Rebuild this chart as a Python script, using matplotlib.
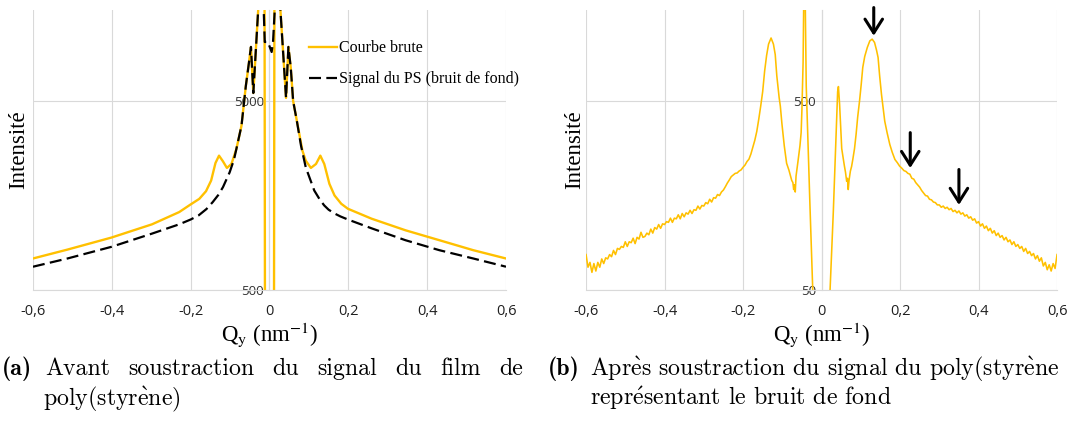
import matplotlib
matplotlib.use("Agg")
import matplotlib.pyplot as plt
from matplotlib.lines import Line2D
from matplotlib.ticker import FixedLocator, NullLocator

# ---- (a) raw curve and PS background ----
q_raw = [-0.600, -0.5125, -0.401, -0.298, -0.229, -0.200, -0.178, -0.161, -0.148,
         -0.137, -0.128, -0.118, -0.108, -0.0965, -0.084, -0.071, -0.060, -0.052,
         -0.047, -0.041, -0.035, -0.028, -0.0125, -0.0114, 0.0114, 0.0125, 0.027,
         0.042, 0.048, 0.054, 0.060, 0.069, 0.0836, 0.092, 0.105, 0.118, 0.129,
         0.139, 0.152, 0.165, 0.182, 0.199, 0.259, 0.345, 0.431, 0.517, 0.600]
i_raw = [734, 818, 947, 1113, 1292, 1418, 1518, 1666, 1897,
         2349, 2569, 2397, 2212, 2321, 2785, 3700, 6000, 8000,
         9660, 5510, 9000, 16000, 16000, 300, 300, 16000, 16000,
         5190, 9660, 7500, 5000, 3970, 2727, 2417, 2212, 2321, 2569,
         2321, 1822, 1582, 1430, 1345, 1192, 1035, 917, 812, 734]

q_ps = [-0.600, -0.5125, -0.401, -0.298, -0.229, -0.200, -0.180, -0.160, -0.144,
        -0.130, -0.118, -0.101, -0.090, -0.084, -0.071, -0.060, -0.052, -0.047,
        -0.041, -0.035, -0.028, -0.015, -0.012, -0.004, 0.0055, 0.009, 0.014,
        0.027, 0.042, 0.048, 0.054, 0.060, 0.069, 0.080, 0.092, 0.1136, 0.128,
        0.139, 0.150, 0.165, 0.180, 0.199, 0.259, 0.345, 0.431, 0.517, 0.600]
i_ps = [664, 734, 846, 994, 1113, 1180, 1240, 1340, 1459,
        1590, 1750, 2098, 2450, 2785, 3700, 6000, 8000, 9660,
        5510, 9000, 16000, 16000, 10260, 10260, 9080, 10260, 16000,
        16000, 5190, 9660, 7500, 5000, 3970, 2900, 2229, 1680, 1500,
        1400, 1330, 1270, 1225, 1180, 1060, 917, 812, 734, 664]

# ---- (b) after subtraction ----
q_sub = [-0.600, -0.595, -0.590, -0.585, -0.580, -0.575, -0.570, -0.565, -0.560, -0.555,
         -0.550, -0.545, -0.540, -0.535, -0.530, -0.525, -0.520, -0.515, -0.510, -0.505,
         -0.500, -0.495, -0.490, -0.485, -0.480, -0.475, -0.470, -0.465, -0.460, -0.455,
         -0.450, -0.445, -0.440, -0.435, -0.430, -0.425, -0.420, -0.415, -0.410, -0.405,
         -0.400, -0.395, -0.390, -0.385, -0.380, -0.375, -0.370, -0.365, -0.360, -0.355,
         -0.350, -0.345, -0.340, -0.335, -0.330, -0.325, -0.320, -0.315, -0.310, -0.305,
         -0.300, -0.295, -0.290, -0.285, -0.280, -0.275, -0.270, -0.265, -0.260, -0.255,
         -0.250, -0.245, -0.240, -0.235, -0.230, -0.225, -0.220, -0.215, -0.210, -0.205,
         -0.200, -0.195, -0.190, -0.185, -0.180, -0.175, -0.170, -0.165, -0.160, -0.155,
         -0.150, -0.145, -0.140, -0.135, -0.1286, -0.1226, -0.118, -0.114, -0.108, -0.105,
         -0.101, -0.095, -0.089, -0.083, -0.079, -0.076, -0.073, -0.071, -0.069, -0.067,
         -0.065, -0.063, -0.060, -0.057, -0.055, -0.052, -0.050, -0.047, -0.045, -0.042,
         -0.039, -0.030, -0.0224, -0.018, 0.018, 0.0217, 0.030, 0.034, 0.038, 0.041,
         0.043, 0.046, 0.0514, 0.055, 0.058, 0.061, 0.064, 0.066, 0.068, 0.070,
         0.0735, 0.0765, 0.0796, 0.084, 0.088, 0.092, 0.0968, 0.101, 0.105, 0.110,
         0.1166, 0.123, 0.129, 0.135, 0.140, 0.144, 0.148, 0.1527, 0.157, 0.161,
         0.167, 0.174, 0.180, 0.187, 0.193, 0.199, 0.204, 0.210, 0.215, 0.220,
         0.225, 0.230, 0.235, 0.240, 0.245, 0.250, 0.255, 0.260, 0.265, 0.270,
         0.275, 0.280, 0.285, 0.290, 0.295, 0.300, 0.305, 0.310, 0.315, 0.320,
         0.325, 0.330, 0.335, 0.340, 0.345, 0.350, 0.355, 0.360, 0.365, 0.370,
         0.375, 0.380, 0.385, 0.390, 0.395, 0.400, 0.405, 0.410, 0.415, 0.420,
         0.425, 0.430, 0.435, 0.440, 0.445, 0.450, 0.455, 0.460, 0.465, 0.470,
         0.475, 0.480, 0.485, 0.490, 0.495, 0.500, 0.505, 0.510, 0.515, 0.520,
         0.525, 0.530, 0.535, 0.540, 0.545, 0.550, 0.555, 0.560, 0.565, 0.570,
         0.575, 0.580, 0.585, 0.590, 0.595, 0.600]
i_sub = [77, 66, 70, 62, 69, 63, 70, 66, 73, 69,
         74, 73, 77, 75, 81, 77, 83, 82, 85, 84,
         90, 85, 90, 89, 94, 88, 95, 93, 101, 95,
         96, 100, 98, 105, 100, 107, 105, 111, 106, 112,
         111, 115, 114, 120, 114, 120, 119, 125, 119, 127,
         122, 128, 126, 132, 127, 133, 132, 139, 134, 140,
         139, 145, 143, 151, 146, 154, 153, 160, 158, 165,
         169, 176, 184, 191, 199, 203, 207, 208, 213, 216,
         223, 229, 239, 246, 262, 285, 310, 345, 400, 470,
         560, 720, 870, 1000, 1077, 1000, 880, 680, 520, 470,
         380, 290, 234, 215, 200, 190, 185, 170, 180, 165,
         200, 215, 240, 270, 290, 340, 450, 800, 2000, 2000,
         600, 150, 50, 30, 30, 50, 130, 224, 400, 560,
         596, 480, 280, 250, 228, 210, 188, 195, 170, 190,
         213, 225, 245, 280, 333, 410, 500, 610, 752, 860,
         960, 1040, 1062, 1020, 930, 850, 680, 542, 460, 391,
         340, 294, 268, 245, 236, 226, 221, 214, 212, 207,
         205, 195, 193, 185, 180, 175, 168, 163, 158, 157,
         151, 150, 146, 145, 141, 141, 137, 139, 135, 137,
         133, 135, 130, 132, 128, 131, 126, 128, 123, 125,
         120, 122, 117, 119, 113, 115, 109, 112, 106, 109,
         103, 106, 100, 103, 97, 100, 95, 97, 92, 95,
         90, 92, 87, 90, 85, 87, 83, 85, 80, 83,
         78, 80, 76, 78, 73, 76, 71, 74, 67, 70,
         64, 68, 63, 69, 65, 77]

xticks = [-0.6, -0.4, -0.2, 0, 0.2, 0.4, 0.6]
xticklabels = ["-0,6", "-0,4", "-0,2", "0", "0,2", "0,4", "0,6"]
yticks_a = [500, 5000]
yticks_b = [50, 500]
ylim_a = (500, 15150)
ylim_b = (50, 1515)

arrow_q = [0.133, 0.226, 0.350]
arrow_tip = [1107, 221, 141]
arrow_tail = [1560, 340, 217]

GOLD = "#FFC000"
GRID = "#d9d9d9"
SERIF = "Liberation Serif"
SANS = "Open Sans"

fig = plt.figure(figsize=(10.7, 4.23), dpi=100)
ax_a = fig.add_axes([0.0308, 0.3144, 0.4421, 0.6620])
ax_b = fig.add_axes([0.5477, 0.3144, 0.4402, 0.6620])


def style(ax, yticks, ylim, ylabel_x):
    ax.set_yscale("log")
    ax.set_xlim(-0.6, 0.6)
    ax.set_ylim(*ylim)
    ax.spines["top"].set_visible(False)
    ax.spines["right"].set_visible(False)
    ax.spines["left"].set_position(("data", 0))
    ax.spines["left"].set_color("#c8c8c8")
    ax.spines["left"].set_zorder(0.5)
    ax.spines["bottom"].set_color(GRID)
    ax.yaxis.set_major_locator(FixedLocator(yticks))
    ax.yaxis.set_minor_locator(NullLocator())
    ax.set_yticklabels([str(v) for v in yticks])
    ax.tick_params(axis="y", length=0, pad=4, labelsize=9.5, labelfontfamily=SANS,
                   labelcolor="#303030")
    ax.set_xticks(xticks, xticklabels)
    ax.tick_params(axis="x", length=0, pad=10, labelsize=10.5, labelfontfamily=SANS,
                   labelcolor="#202020")
    ax.grid(True, color=GRID, lw=0.8)
    ax.set_axisbelow(True)
    ax.set_facecolor("none")
    ax.set_ylabel("Intensité", family=SERIF, fontsize=16.5)
    ax.yaxis.set_label_coords(ylabel_x, 0.5)
    ax.set_xlabel(r"Q$_{\mathrm{y}}$ (nm$^{\mathrm{-1}}$)", family=SERIF, fontsize=16.5,
                  labelpad=1, math_fontfamily="stix")


style(ax_a, yticks_a, ylim_a, -0.009)
style(ax_b, yticks_b, ylim_b, -0.002)

ax_a.plot(q_raw, i_raw, color=GOLD, lw=1.7, zorder=2)
ax_a.plot(q_ps, i_ps, color="black", lw=1.6, dashes=(5.4, 2.4), zorder=3)

handles = [Line2D([], [], color=GOLD, lw=1.7),
           Line2D([], [], color="black", lw=1.6, dashes=(5.4, 2.4))]
ax_a.legend(handles, ["Courbe brute", "Signal du PS (bruit de fond)"],
            loc="upper left", bbox_to_anchor=(0.57, 0.915), frameon=False,
            prop={"family": SERIF, "size": 11.5}, handlelength=1.75,
            handletextpad=0.15, labelspacing=0.95, borderaxespad=0)

ax_b.plot(q_sub, i_sub, color=GOLD, lw=1.15, zorder=2)
for q, tip, tail in zip(arrow_q, arrow_tip, arrow_tail):
    ax_b.annotate("", xy=(q, tip), xytext=(q, tail),
                  arrowprops=dict(arrowstyle="->,head_width=0.35,head_length=0.55",
                                  lw=2.2, color="black", mutation_scale=18,
                                  shrinkA=0, shrinkB=0))

# captions (LaTeX-like subcaptions under each panel)
y1 = 1 - 375 / 423
y2 = 1 - 405 / 423
cap = dict(fontsize=17.2, va="baseline", math_fontfamily="cm")
fig.text(2 / 1070, y1, "(a)", family="cmb10", **cap)

# first line of (a) is justified between x=45 and x=523 px
words_a = ["Avant", "soustraction", "du", "signal", "du", "film", "de"]
renderer = fig.canvas.get_renderer()
texts = [fig.text(0, y1, w, family="cmr10", **cap) for w in words_a]
widths = [t.get_window_extent(renderer).width for t in texts]
gap = (523 - 45 - sum(widths)) / (len(texts) - 1)
px = 45
for t, w in zip(texts, widths):
    t.set_x(px / 1070)
    px += w + gap
fig.text(43 / 1070, y2, r"poly(styr$\mathrm{\grave{e}}$ne)", family="cmr10", **cap)

fig.text(548 / 1070, y1, "(b)", family="cmb10", **cap)
fig.text(590 / 1070, y1,
         r"Apr$\mathrm{\grave{e}}$s soustraction du signal du poly(styr$\mathrm{\grave{e}}$ne",
         family="cmr10", **cap)
fig.text(590 / 1070, y2, r"repr$\mathrm{\acute{e}}$sentant le bruit de fond",
         family="cmr10", **cap)

fig.savefig("out.png", dpi=100)
